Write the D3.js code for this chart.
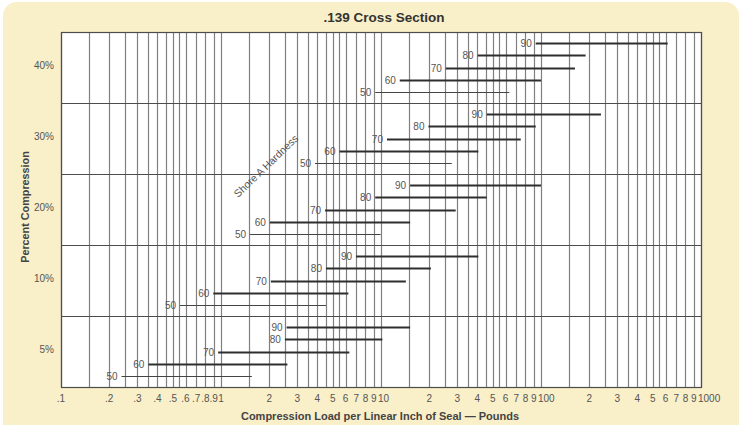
<!DOCTYPE html>
<html>
<head>
<meta charset="utf-8">
<script src="https://cdn.jsdelivr.net/npm/d3@7"></script>
<style>
  body { margin: 0; background: #fff; }
  svg { display: block; font-family: "Liberation Sans", Arial, sans-serif; }
</style>
</head>
<body>
<div id="chart"></div>
<script>
// compression bands, top to bottom
const bands = ["40%", "30%", "20%", "10%", "5%"];
// shore A hardness rows inside each band, top to bottom
const hardness = [90, 80, 70, 60, 50];

// load range (lbs per linear inch) for each band / hardness
const segments = [
  {pct: "40%", shore: 90, from: 92.7, to: 619},
  {pct: "40%", shore: 80, from: 40.2, to: 190},
  {pct: "40%", shore: 70, from: 25.4, to: 163},
  {pct: "40%", shore: 60, from: 13.1, to: 100},
  {pct: "40%", shore: 50, from: 9.2,  to: 63.4},

  {pct: "30%", shore: 90, from: 45.8, to: 237},
  {pct: "30%", shore: 80, from: 19.8, to: 92.7},
  {pct: "30%", shore: 70, from: 10.9, to: 74.7},
  {pct: "30%", shore: 60, from: 5.5,  to: 40.6},
  {pct: "30%", shore: 50, from: 3.87, to: 27.7},

  {pct: "20%", shore: 90, from: 15.2, to: 100},
  {pct: "20%", shore: 80, from: 9.2,  to: 45.8},
  {pct: "20%", shore: 70, from: 4.47, to: 29.3},
  {pct: "20%", shore: 60, from: 2.02, to: 15.2},
  {pct: "20%", shore: 50, from: 1.52, to: 9.95},

  {pct: "10%", shore: 90, from: 6.98, to: 40.6},
  {pct: "10%", shore: 80, from: 4.53, to: 20.5},
  {pct: "10%", shore: 70, from: 2.05, to: 14.3},
  {pct: "10%", shore: 60, from: 0.895, to: 6.25},
  {pct: "10%", shore: 50, from: 0.555, to: 4.53},

  {pct: "5%", shore: 90, from: 2.57, to: 15.2},
  {pct: "5%", shore: 80, from: 2.51, to: 10.2},
  {pct: "5%", shore: 70, from: 0.96, to: 6.34},
  {pct: "5%", shore: 60, from: 0.352, to: 2.6},
  {pct: "5%", shore: 50, from: 0.239, to: 1.56}
];

// labelled ticks on the x axis
const tickValues = [0.1, 0.2, 0.3, 0.4, 0.5, 0.6, 0.7, 0.8, 0.9,
                    1, 2, 3, 4, 5, 6, 7, 8, 9,
                    10, 20, 30, 40, 50, 60, 70, 80, 90,
                    100, 200, 300, 400, 500, 600, 700, 800, 900, 1000];
const tickLabels = [".1", ".2", ".3", ".4", ".5", ".6", ".7", ".8", ".9",
                    "1", "2", "3", "4", "5", "6", "7", "8", "9",
                    "10", "2", "3", "4", "5", "6", "7", "8", "9",
                    "100", "2", "3", "4", "5", "6", "7", "8", "9", "1000"];
// grid lines inside each decade
const gridSteps = [1, 1.5, 2, 2.5, 3, 3.5, 4, 4.5, 5, 5.5, 6, 7, 8, 9];
const decades = [0.1, 1, 10, 100];

const W = 741, H = 425;
const plot = {left: 61, right: 701, top: 32, bottom: 387};

const svg = d3.select("#chart").append("svg")
    .attr("width", W).attr("height", H);

// cream panel
svg.append("rect")
    .attr("x", 3).attr("y", 2).attr("width", W - 5).attr("height", H + 20)
    .attr("rx", 14).attr("fill", "#f9efc8");

const x = d3.scaleLog().domain([0.1, 1000]).range([plot.left, plot.right]);
const y = d3.scaleBand().domain(bands).range([plot.top, plot.bottom]);
const row = d3.scalePoint().domain(hardness).range([0, y.bandwidth()]).padding(0.95);

const g = svg.append("g");

g.append("rect")
    .attr("x", plot.left).attr("y", plot.top)
    .attr("width", plot.right - plot.left).attr("height", plot.bottom - plot.top)
    .attr("fill", "#fff");

// vertical grid
const gridVals = [];
decades.forEach(d => gridSteps.forEach(s => gridVals.push(d * s)));
gridVals.push(1000);
g.selectAll("line.vgrid").data(gridVals).join("line")
    .attr("class", "vgrid")
    .attr("x1", d => Math.round(x(d)) + 0.5).attr("x2", d => Math.round(x(d)) + 0.5)
    .attr("y1", plot.top).attr("y2", plot.bottom)
    .attr("stroke", "#808080").attr("stroke-width", 1.2);

// horizontal band lines
g.selectAll("line.hgrid").data(bands.slice(1)).join("line")
    .attr("class", "hgrid")
    .attr("x1", plot.left).attr("x2", plot.right)
    .attr("y1", d => Math.round(y(d)) + 0.5).attr("y2", d => Math.round(y(d)) + 0.5)
    .attr("stroke", "#4d4d4d").attr("stroke-width", 1.2);

g.append("rect")
    .attr("x", plot.left + 0.5).attr("y", plot.top + 0.5)
    .attr("width", plot.right - plot.left).attr("height", plot.bottom - plot.top)
    .attr("fill", "none").attr("stroke", "#4d4d4d").attr("stroke-width", 1.2);

// load range lines
const segY = d => Math.round(y(d.pct) + row(d.shore)) + 0.5;
g.selectAll("line.seg").data(segments).join("line")
    .attr("class", "seg")
    .attr("x1", d => x(d.from)).attr("x2", d => x(d.to))
    .attr("y1", segY).attr("y2", segY)
    .attr("stroke", d => d.shore === 50 ? "#444" : "#2e2e2e")
    .attr("stroke-width", d => d.shore === 50 ? 1 : 2);

g.selectAll("text.seglabel").data(segments).join("text")
    .attr("class", "seglabel")
    .attr("x", d => x(d.from) - 4).attr("y", segY)
    .attr("dy", "0.35em").attr("text-anchor", "end")
    .attr("font-size", 10).attr("fill", "#555")
    .text(d => d.shore);

// x tick labels; the decade labels 10, 100, 1000 start at their line
const isDecade = i => i > 9 && ["10", "100", "1000"].includes(tickLabels[i]);
g.selectAll("text.xtick").data(tickValues).join("text")
    .attr("class", "xtick")
    .attr("x", (d, i) => isDecade(i) ? x(d) - 3 : x(d)).attr("y", 401.5)
    .attr("text-anchor", (d, i) => isDecade(i) ? "start" : "middle")
    .attr("font-size", 10).attr("fill", "#555")
    .text((d, i) => tickLabels[i]);

// y labels
g.selectAll("text.ytick").data(bands).join("text")
    .attr("class", "ytick")
    .attr("x", 54).attr("y", d => y(d) + y.bandwidth() / 2 - 2.5)
    .attr("dy", "0.35em").attr("text-anchor", "end")
    .attr("font-size", 10).attr("fill", "#555")
    .text(d => d);

// titles
svg.append("text")
    .attr("x", 384).attr("y", 22).attr("text-anchor", "middle")
    .attr("font-size", 13.5).attr("font-weight", "bold").attr("fill", "#333")
    .text(".139 Cross Section");

svg.append("text")
    .attr("x", 380).attr("y", 420).attr("text-anchor", "middle")
    .attr("font-size", 11).attr("font-weight", "bold").attr("fill", "#444")
    .text("Compression Load per Linear Inch of Seal  \u2014  Pounds");

svg.append("text")
    .attr("transform", "translate(29,207) rotate(-90)")
    .attr("text-anchor", "middle")
    .attr("font-size", 10.8).attr("font-weight", "bold").attr("fill", "#444")
    .text("Percent Compression");

svg.append("text")
    .attr("transform", "translate(266,166) rotate(-44)")
    .attr("text-anchor", "middle").attr("dy", "0.35em")
    .attr("font-size", 10.5).attr("fill", "#555")
    .text("Shore A Hardness");
</script>
</body>
</html>
